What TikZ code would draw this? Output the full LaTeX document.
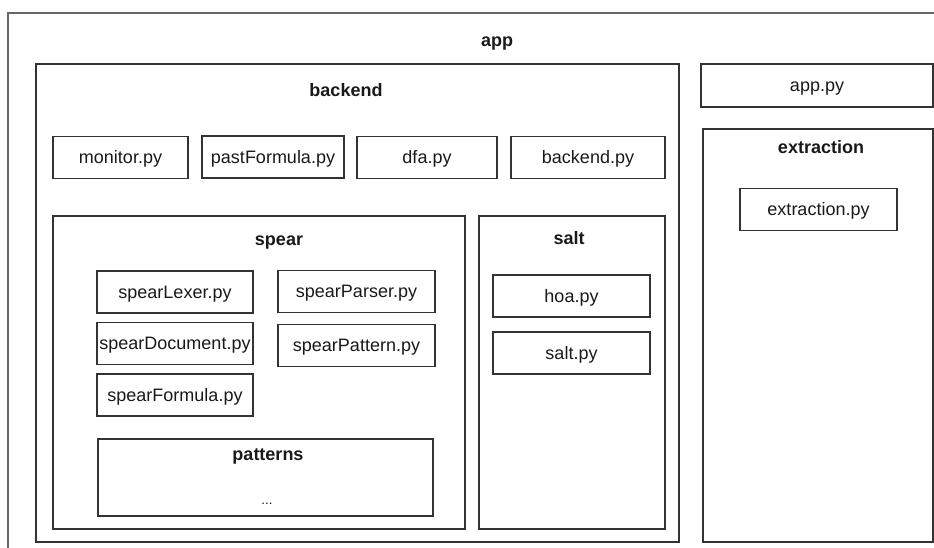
\documentclass[tikz,border=0pt]{standalone}
\usepackage{fontspec}
\setmainfont{Liberation Sans}
\usepackage{xcolor}
\usepackage{tikz}

\begin{document}
\begin{tikzpicture}[x=0.75pt,y=0.75pt,yscale=-1,xscale=1,
  every node/.style={font=\fontsize{13.5}{16}\selectfont, text=black!90},
  filebox/.style={draw=black!80, line width=1pt, inner sep=0pt, minimum height=31.5pt, text height=10pt, text depth=1pt},
  groupbox/.style={draw=black!80, line width=1pt, inner sep=0pt},
  grouplabel/.style={inner sep=0.75pt, text height=10pt, text depth=1pt, font=\fontsize{13.5}{16}\selectfont\bfseries}]
\useasboundingbox (0,0) rectangle (934,547);
\clip (0,0) rectangle (934,547);

%Shape: Rectangle (app, runs past the page)
\draw [color=black!60, line width=0.9pt] (8,13) rectangle (980,600);

%Shape: Rectangle
\node [groupbox, minimum width=482.25pt, minimum height=358.5pt] (backend) at (357.5,303) {};
%Shape: Rectangle
\node [groupbox, minimum width=172.5pt, minimum height=309.75pt] (extraction) at (818,335.5) {};
%Shape: Rectangle
\node [groupbox, minimum width=309pt, minimum height=234.75pt] (spear) at (259,372.5) {};
%Shape: Rectangle
\node [groupbox, minimum width=139.5pt, minimum height=234.75pt] (salt) at (572,372.5) {};
%Shape: Rectangle
\node [groupbox, minimum width=251.25pt, minimum height=57.75pt] (patterns) at (265.5,477.5) {};

%Shape: Rectangle
\node [filebox, minimum width=174pt, minimum height=32.25pt] (apppy) at (817,85.5) {app.py};
%Shape: Rectangle
\node [filebox, minimum width=117.75pt] (extractionpy) at (818.5,209.5) {extraction.py};

%Shape: Rectangle
\node [filebox, minimum width=101.25pt] (monitor) at (120.5,157.5) {monitor.py};
%Shape: Rectangle
\node [filebox, minimum width=106.5pt] (pastformula) at (273,157) {pastFormula.py};
%Shape: Rectangle
\node [filebox, minimum width=105pt] (dfa) at (427,157.5) {dfa.py};
%Shape: Rectangle
\node [filebox, minimum width=115.5pt] (backendpy) at (588,157.5) {backend.py};

%Shape: Rectangle
\node [filebox, minimum width=117pt] (lexer) at (175,292) {spearLexer.py};
%Shape: Rectangle
\node [filebox, minimum width=117pt] (document) at (175,343.5) {spearDocument.py};
%Shape: Rectangle
\node [filebox, minimum width=117pt] (formula) at (175,395) {spearFormula.py};
%Shape: Rectangle
\node [filebox, minimum width=117.75pt] (parser) at (356.5,291.5) {spearParser.py};
%Shape: Rectangle
\node [filebox, minimum width=117.75pt] (pattern) at (356.5,345.5) {spearPattern.py};

%Shape: Rectangle
\node [filebox, minimum width=117.75pt] (hoa) at (571.5,296) {hoa.py};
%Shape: Rectangle
\node [filebox, minimum width=117.75pt] (saltpy) at (571.5,353) {salt.py};

% Text Node
\node [grouplabel] (applbl) at (497,40) {app};
% Text Node
\node [grouplabel] (backendlbl) at (346,90) {backend};
% Text Node
\node [grouplabel] (extractionlbl) at (821,147) {extraction};
% Text Node
\node [grouplabel] (spearlbl) at (279,239) {spear};
% Text Node
\node [grouplabel] (saltlbl) at (569,238) {salt};
% Text Node
\node [grouplabel] (patternslbl) at (268,454) {patterns};
% Text Node
\node [inner sep=0.75pt, font=\fontsize{10}{12}\selectfont] (dots) at (267,504) {...};

\end{tikzpicture}
\end{document}
